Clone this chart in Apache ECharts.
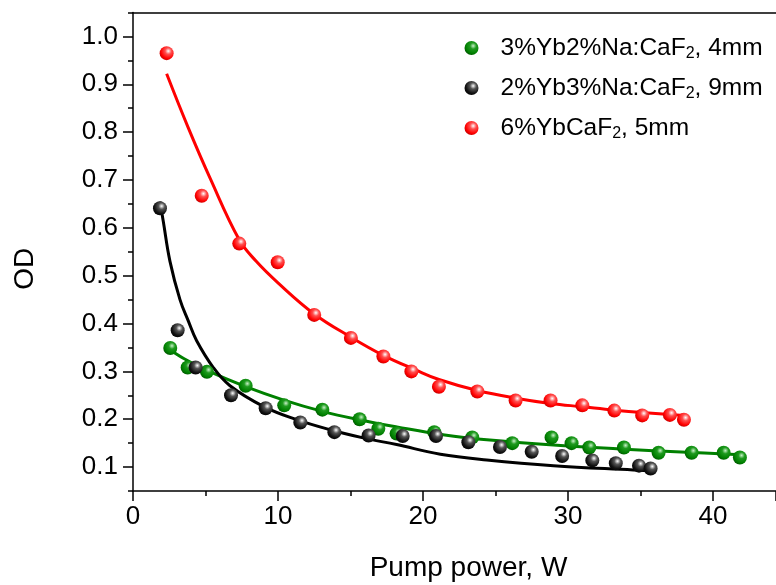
<!DOCTYPE html>
<html>
<head>
<meta charset="utf-8">
<script src="https://cdn.jsdelivr.net/npm/echarts@6/dist/echarts.min.js"></script>
<style>
html,body{margin:0;padding:0;background:#fff;}
#c{width:776px;height:585px;}
</style>
</head>
<body>
<div id="c"></div>
<script>
// ---- data ----
const greenX = [2.57, 3.77, 5.10, 7.77, 10.43, 13.06, 15.63, 16.92, 18.18, 20.78, 23.4, 26.16, 28.87, 30.25, 31.47, 33.86, 36.25, 38.53, 40.74, 41.86];
const greenY = [0.349, 0.308, 0.299, 0.270, 0.229, 0.220, 0.200, 0.180, 0.170, 0.173, 0.162, 0.150, 0.162, 0.150, 0.141, 0.141, 0.130, 0.130, 0.130, 0.120];
const blackX = [1.86, 3.08, 4.32, 6.76, 9.15, 11.54, 13.89, 16.25, 18.6, 20.9, 23.13, 25.31, 27.5, 29.6, 31.68, 33.3, 34.9, 35.7];
const blackY = [0.641, 0.386, 0.308, 0.250, 0.223, 0.193, 0.173, 0.166, 0.165, 0.165, 0.152, 0.142, 0.132, 0.123, 0.114, 0.108, 0.103, 0.097];
const redX = [2.32, 4.74, 7.33, 9.98, 12.5, 15.03, 17.27, 19.2, 21.1, 23.75, 26.39, 28.8, 30.99, 33.2, 35.12, 37.03, 38.0];
const redY = [0.965, 0.667, 0.567, 0.528, 0.418, 0.370, 0.331, 0.300, 0.268, 0.258, 0.239, 0.239, 0.229, 0.218, 0.208, 0.209, 0.199];

// fitted curves, sampled along the drawn lines
const greenFitX = [2.32, 3.5, 5.1, 7.77, 10.4, 13.0, 15.6, 18.2, 21.5, 24.4, 29.0, 33.6, 38.2, 41.9];
const greenFitY = [0.350, 0.327, 0.302, 0.268, 0.240, 0.217, 0.199, 0.184, 0.167, 0.157, 0.146, 0.138, 0.131, 0.126];
const blackFitX = [1.86, 2.09, 2.55, 3.24, 3.82, 4.39, 5.54, 6.69, 8.99, 11.29, 13.59, 15.88, 18.18, 21.2, 24.4, 29.0, 34.5, 35.8];
const blackFitY = [0.655, 0.613, 0.530, 0.450, 0.405, 0.364, 0.308, 0.270, 0.227, 0.199, 0.178, 0.161, 0.147, 0.127, 0.115, 0.103, 0.094, 0.092];
const redFitX = [2.32, 3.8, 5.3, 7.33, 8.5, 10.0, 12.5, 15.0, 17.3, 19.5, 21.1, 23.75, 26.4, 28.8, 31.0, 33.2, 35.1, 38.0];
const redFitY = [0.922, 0.810, 0.705, 0.575, 0.530, 0.485, 0.420, 0.372, 0.333, 0.303, 0.283, 0.260, 0.244, 0.233, 0.226, 0.219, 0.214, 0.208];

const names = ['3%Yb2%Na:CaF{s|2}, 4mm', '2%Yb3%Na:CaF{s|2}, 9mm', '6%YbCaF{s|2}, 5mm'];
const seriesNames = ['g', 'k', 'r'];
const yMajor = [0.1, 0.2, 0.3, 0.4, 0.5, 0.6, 0.7, 0.8, 0.9, 1.0];
const yMinor = [0.05, 0.15, 0.25, 0.35, 0.45, 0.55, 0.65, 0.75, 0.85, 0.95, 1.05];

function zip(a, b) { return a.map((v, i) => [v, b[i]]); }
function sphere(c0, c1, c2, c3) {
  return { type: 'radial', x: 0.62, y: 0.35, r: 0.75,
    colorStops: [{offset: 0, color: c0}, {offset: 0.3, color: c1}, {offset: 0.7, color: c2}, {offset: 1, color: c3}] };
}
const FONT = 'Liberation Sans, Arial, sans-serif';
const green = '#008000', red = '#ff0000', black = '#000000';

const chart = echarts.init(document.getElementById('c'), null, {renderer: 'canvas'});
function fit(x, y, col) {
  return { type: 'line', data: zip(x, y), smooth: 0.4, showSymbol: false, symbol: 'none',
    lineStyle: {color: col, width: 3}, xAxisIndex: 0, yAxisIndex: 0, z: 2, silent: true, legendHoverLink: false };
}
function pts(name, x, y, grad) {
  return { type: 'scatter', name: name, data: zip(x, y), symbol: 'circle', symbolSize: 14,
    itemStyle: {color: grad, opacity: 1}, xAxisIndex: 0, yAxisIndex: 0, z: 3 };
}
const gGrad = sphere('#c8f0c8', '#1f9a1f', '#008000', '#004a00');
const kGrad = sphere('#ffffff', '#555555', '#111111', '#000000');
const rGrad = sphere('#ffffff', '#ff5050', '#ff0000', '#b00000');

chart.setOption({
  animation: false,
  backgroundColor: '#ffffff',
  grid: {left: 133, right: 0, top: 12.5, bottom: 94, containLabel: false, outerBoundsMode: 'none'},
  legend: {
    data: seriesNames, orient: 'vertical', left: 459.5, top: 29, itemWidth: 48, itemHeight: 14, itemGap: 12,
    icon: 'circle',
    formatter: function (n) { return names[seriesNames.indexOf(n)]; },
    textStyle: {color: '#000', fontSize: 24.5, fontFamily: FONT, lineHeight: 28,
      rich: {s: {fontSize: 16, fontFamily: FONT, lineHeight: 6, verticalAlign: 'bottom', color: '#000'}}}
  },
  xAxis: [{
    type: 'value', position: 'bottom', min: 0, max: 44.35, interval: 10,
    axisLine: {show: true, onZero: false, lineStyle: {color: '#000', width: 1.5}},
    axisTick: {show: true, inside: false, length: 10, lineStyle: {color: '#000', width: 1.5}},
    minorTick: {show: true, splitNumber: 2, length: 5, lineStyle: {color: '#000', width: 1.5}},
    splitLine: {show: false}, minorSplitLine: {show: false},
    axisLabel: {color: '#000', fontSize: 26, fontFamily: FONT, margin: 13, showMaxLabel: false},
    name: 'Pump power, W', nameLocation: 'middle', nameGap: 63,
    nameTextStyle: {color: '#000', fontSize: 28, fontFamily: FONT, padding: [0, 0, 0, 28]}
  }, {
    type: 'value', position: 'top', min: 0, max: 44.35,
    axisLine: {show: true, onZero: false, lineStyle: {color: '#000', width: 1.5}},
    axisTick: {show: false}, axisLabel: {show: false}, splitLine: {show: false}
  }],
  yAxis: [{
    type: 'value', position: 'left', min: 0.05, max: 1.05,
    axisLine: {show: true, onZero: false, lineStyle: {color: '#000', width: 1.5}},
    axisTick: {show: true, inside: false, length: 10, customValues: yMajor, lineStyle: {color: '#000', width: 1.5}},
    axisLabel: {color: '#000', fontSize: 26, fontFamily: FONT, margin: 15, customValues: yMajor,
      formatter: function (v) { return v.toFixed(1); }},
    splitLine: {show: false},
    name: 'OD', nameLocation: 'middle', nameGap: 94, nameRotate: 90,
    nameTextStyle: {color: '#000', fontSize: 28, fontFamily: FONT, padding: [0, 34, 0, 0]}
  }, {
    type: 'value', position: 'left', min: 0.05, max: 1.05,
    axisLine: {show: false},
    axisTick: {show: true, inside: false, length: 5, customValues: yMinor, lineStyle: {color: '#000', width: 1.5}},
    axisLabel: {show: false}, splitLine: {show: false}
  }],
  series: [
    fit(greenFitX, greenFitY, green),
    fit(blackFitX, blackFitY, black),
    fit(redFitX, redFitY, red),
    pts('g', greenX, greenY, gGrad),
    pts('k', blackX, blackY, kGrad),
    pts('r', redX, redY, rGrad)
  ]
});
</script>
</body>
</html>
